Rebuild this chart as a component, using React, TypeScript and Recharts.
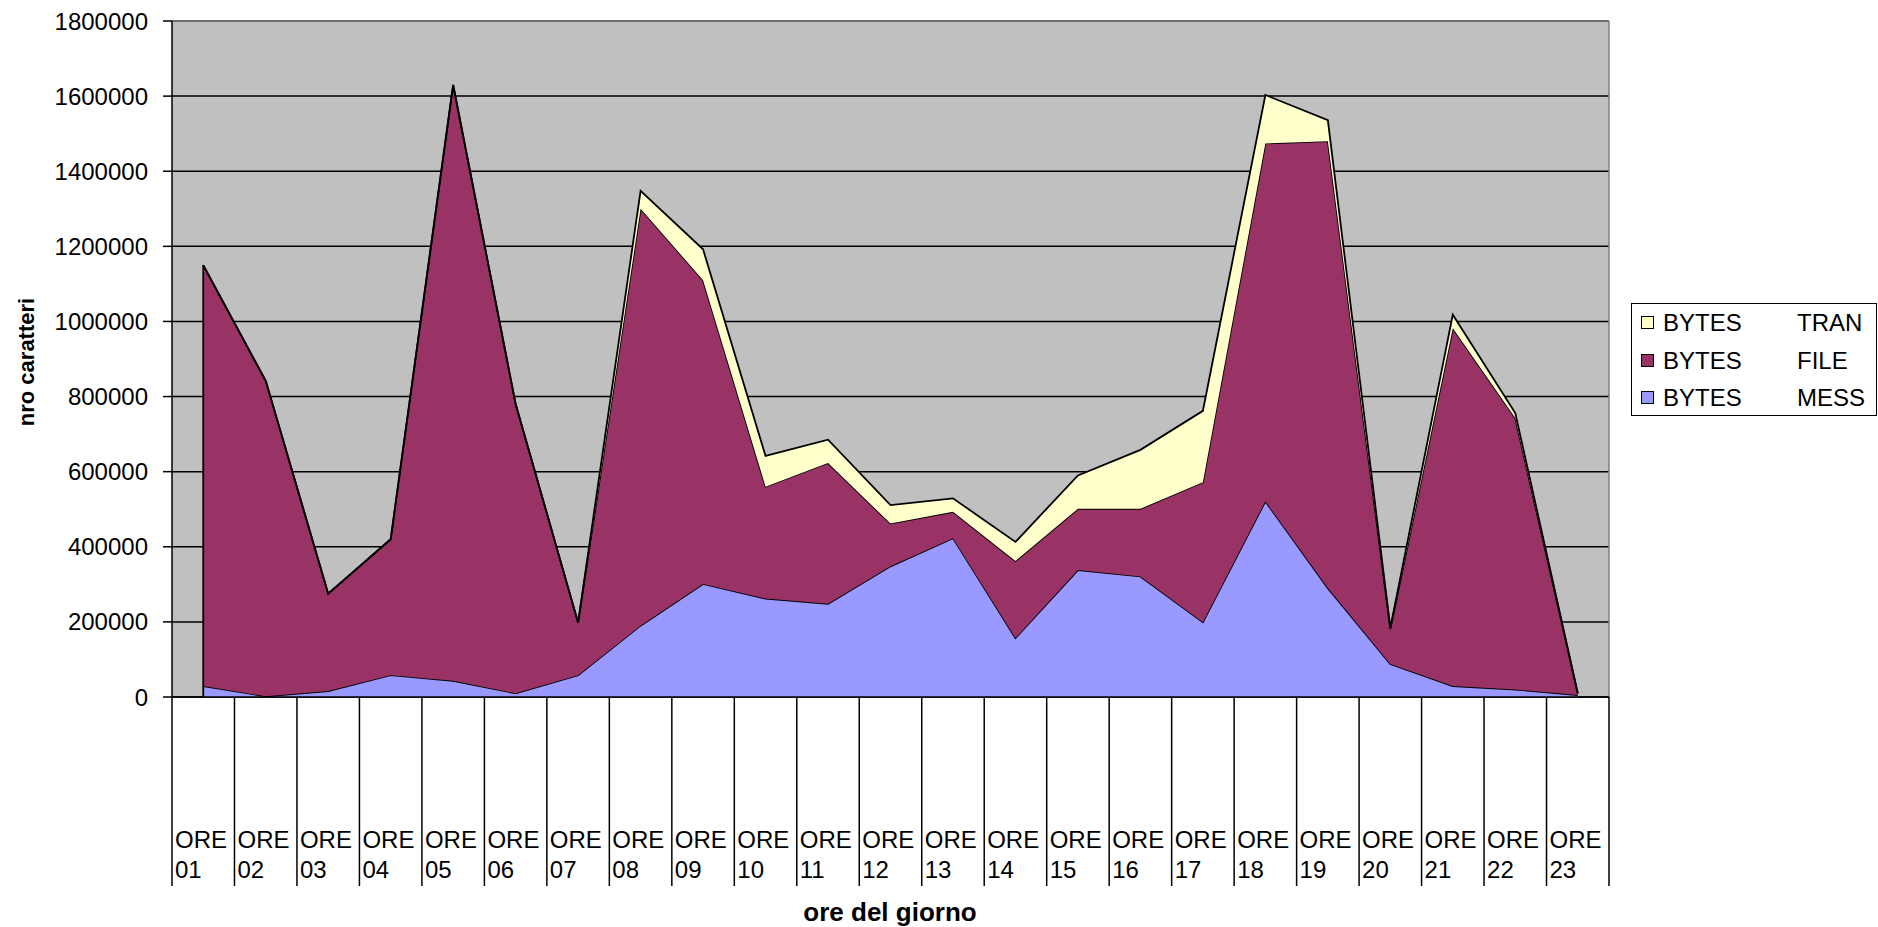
import React from 'react';
import { AreaChart, Area, XAxis, YAxis, CartesianGrid, ReferenceLine } from 'recharts';

const categories = [
  'ORE 01', 'ORE 02', 'ORE 03', 'ORE 04', 'ORE 05', 'ORE 06', 'ORE 07', 'ORE 08',
  'ORE 09', 'ORE 10', 'ORE 11', 'ORE 12', 'ORE 13', 'ORE 14', 'ORE 15', 'ORE 16',
  'ORE 17', 'ORE 18', 'ORE 19', 'ORE 20', 'ORE 21', 'ORE 22', 'ORE 23',
];

const bytesMess = [
  29000, 2000, 16000, 58000, 43000, 10000, 58000, 190000,
  301000, 262000, 248000, 348000, 423000, 157000, 338000, 321000,
  199000, 521000, 290000, 88000, 29000, 20000, 5000,
];

const bytesFile = [
  1121000, 840000, 259000, 362000, 1587000, 770000, 140000, 1110000,
  809000, 298000, 375000, 114000, 70000, 205000, 163000, 180000,
  373000, 953000, 1190000, 93000, 953000, 723000, 4000,
];

const bytesTran = [
  0, 0, 0, 0, 0, 0, 0, 48000,
  82000, 82000, 62000, 49000, 36000, 51000, 89000, 157000,
  190000, 129000, 56000, 3000, 36000, 13000, 1000,
];

const yTicks = [0, 200000, 400000, 600000, 800000, 1000000, 1200000, 1400000, 1600000, 1800000];

const legendItems = [
  { key: 'tran', first: 'BYTES', second: 'TRAN', color: '#FFFFCC' },
  { key: 'file', first: 'BYTES', second: 'FILE', color: '#993366' },
  { key: 'mess', first: 'BYTES', second: 'MESS', color: '#9999FF' },
];

const FONT = '"Liberation Sans", Arial, sans-serif';

const data = categories.map((c, i) => ({
  x: i + 1,
  name: c,
  mess: bytesMess[i],
  file: bytesFile[i],
  tran: bytesTran[i],
}));

const boundaries = categories.map((_, i) => i + 0.5).concat([categories.length + 0.5]);

const XTick = (props: any) => {
  const { x, y, payload } = props;
  const idx = Math.round(payload.value - 0.5);
  const cat = categories[idx];
  const parts = cat ? cat.split(' ') : [];
  return (
    <g>
      <line x1={x} y1={y} x2={x} y2={y + 189} stroke="#000" strokeWidth={1.5} />
      {cat && (
        <text fontSize={24} fill="#000" fontFamily={FONT} textAnchor="start">
          <tspan x={x + 3} y={y + 151}>{parts[0]}</tspan>
          <tspan x={x + 3} y={y + 181}>{parts[1]}</tspan>
        </text>
      )}
    </g>
  );
};

export default function App() {
  const colors: Record<string, string> = { tran: '#FFFFCC', file: '#993366', mess: '#9999FF' };
  return (
    <div style={{ position: 'absolute', left: 0, top: 0, width: 1878, height: 927, background: '#fff', fontFamily: FONT }}>
      <AreaChart
        width={1878}
        height={927}
        data={data}
        margin={{ top: 21, right: 269, left: 0, bottom: 0 }}
      >
        <CartesianGrid
          vertical={false}
          stroke="#000"
          strokeWidth={1.5}
          fill="#C0C0C0"
          fillOpacity={1}
        />
        <XAxis
          dataKey="x"
          type="number"
          domain={[0.5, categories.length + 0.5]}
          ticks={boundaries}
          interval={0}
          tickSize={0}
          tickMargin={0}
          tickLine={false}
          axisLine={{ stroke: '#000', strokeWidth: 1.5 }}
          height={230}
          tick={<XTick />}
        />
        <YAxis
          type="number"
          domain={[0, 1800000]}
          ticks={yTicks}
          interval={0}
          width={172}
          tickSize={9}
          tickMargin={15}
          axisLine={{ stroke: '#000', strokeWidth: 1.5 }}
          tickLine={{ stroke: '#000', strokeWidth: 1.5 }}
          tick={{ fontSize: 24, fill: '#000', fontFamily: FONT }}
        />
        <Area
          type="linear"
          dataKey="mess"
          stackId="1"
          stroke="#000"
          strokeWidth={1.8}
          fill={colors.mess}
          fillOpacity={1}
          isAnimationActive={false}
        />
        <Area
          type="linear"
          dataKey="file"
          stackId="1"
          stroke="#000"
          strokeWidth={1.8}
          fill={colors.file}
          fillOpacity={1}
          isAnimationActive={false}
        />
        <Area
          type="linear"
          dataKey="tran"
          stackId="1"
          stroke="#000"
          strokeWidth={1.8}
          fill={colors.tran}
          fillOpacity={1}
          isAnimationActive={false}
        />
        <ReferenceLine
          segment={[
            { x: 1, y: 0 },
            { x: 1, y: bytesMess[0] + bytesFile[0] + bytesTran[0] },
          ]}
          stroke="#000"
          strokeWidth={1.8}
        />
        <ReferenceLine y={1800000} stroke="#808080" strokeWidth={1.5} />
        <ReferenceLine x={categories.length + 0.5} stroke="#808080" strokeWidth={1.5} />
      </AreaChart>

      <div
        style={{
          position: 'absolute',
          left: 27,
          top: 362,
          transform: 'translate(-50%, -50%) rotate(-90deg)',
          fontWeight: 'bold',
          fontSize: 22,
          whiteSpace: 'nowrap',
          color: '#000',
        }}
      >
        nro caratteri
      </div>
      <div
        style={{
          position: 'absolute',
          left: 890,
          top: 912,
          transform: 'translate(-50%, -50%)',
          fontWeight: 'bold',
          fontSize: 26,
          whiteSpace: 'nowrap',
          color: '#000',
        }}
      >
        ore del giorno
      </div>

      <div
        style={{
          position: 'absolute',
          left: 1631,
          top: 303,
          width: 246,
          height: 113,
          boxSizing: 'border-box',
          border: '1.5px solid #000',
          background: '#fff',
        }}
      >
        {legendItems.map((it, i) => (
          <div key={it.key} style={{ position: 'absolute', left: 0, top: 19 + i * 37.5, width: '100%', height: 0 }}>
            <div
              style={{
                position: 'absolute',
                left: 9,
                top: -7,
                width: 13,
                height: 13,
                boxSizing: 'border-box',
                border: '1px solid #000',
                background: it.color,
              }}
            />
            <div style={{ position: 'absolute', left: 31, top: -14, fontSize: 24, lineHeight: '28px', whiteSpace: 'nowrap', color: '#000' }}>
              {it.first}
            </div>
            <div style={{ position: 'absolute', left: 165, top: -14, fontSize: 24, lineHeight: '28px', whiteSpace: 'nowrap', color: '#000' }}>
              {it.second}
            </div>
          </div>
        ))}
      </div>
    </div>
  );
}
